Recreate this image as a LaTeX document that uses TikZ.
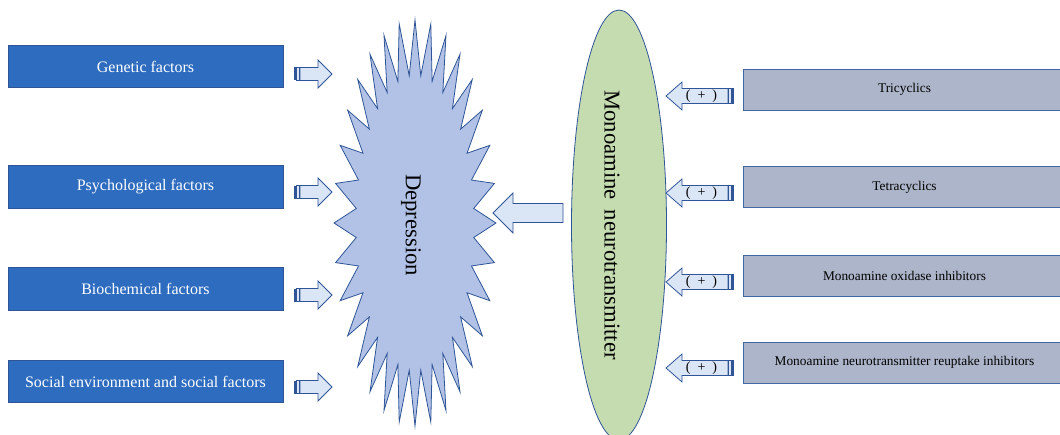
\documentclass[tikz,border=0pt]{standalone}
\usepackage{fontspec}
\setmainfont{Liberation Serif}
\usetikzlibrary{shapes.geometric}
\definecolor{lfill}{RGB}{46,108,192}
\definecolor{lborder}{RGB}{47,85,151}
\definecolor{rfill}{RGB}{172,181,201}
\definecolor{rborder}{RGB}{68,104,164}
\definecolor{starfill}{RGB}{178,194,230}
\definecolor{ellfill}{RGB}{197,219,176}
\definecolor{arrfill}{RGB}{218,229,245}
\definecolor{outl}{RGB}{47,85,151}
\newcommand{\lstriped}[2]{%
  \fill[outl] (#1,#2-6.5) rectangle (#1+2,#2+6.5);
  \draw[arr] (#1+2.8,#2-6.5) rectangle (#1+5,#2+6.5);
  \draw[arr] (#1+6,#2-6.5) -- (#1+24,#2-6.5) -- (#1+24,#2-14) -- (#1+38,#2) -- (#1+24,#2+14) -- (#1+24,#2+6.5) -- (#1+6,#2+6.5) -- cycle;
}
\newcommand{\rplus}[2]{%
  \draw[arr] (#1,#2) -- (#1+16,#2-14) -- (#1+16,#2-7.5) -- (#1+62,#2-7.5) -- (#1+62,#2+7.5) -- (#1+16,#2+7.5) -- (#1+16,#2+14) -- cycle;
  \draw[arr] (#1+62.5,#2-7.5) rectangle (#1+67,#2+7.5);
  \fill[outl] (#1+65,#2-7.5) rectangle (#1+67,#2+7.5);
  \node[font=\fontsize{10.5}{12}\selectfont, inner sep=0] at (#1+35.5,#2) {(\enspace+\enspace)};
}
\begin{document}
\begin{tikzpicture}[x=0.75pt,y=-0.75pt,
  lbox/.style={draw=lborder, fill=lfill, line width=0.6pt, minimum width=275*0.75pt, minimum height=42.5*0.75pt, inner sep=0pt, text=white, font=\fontsize{12}{14}\selectfont},
  rbox/.style={draw=rborder, fill=rfill, line width=0.6pt, minimum width=323*0.75pt, minimum height=41*0.75pt, inner sep=0pt, text=black, font=\fontsize{10}{12}\selectfont},
  arr/.style={draw=outl, fill=arrfill, line width=0.6pt, line join=miter},
  bigtext/.style={font=\fontsize{17}{20}\selectfont, rotate=-90, inner sep=0pt}
]
\useasboundingbox (0,0) rectangle (1060,435);
\clip (0,0) rectangle (1060,435);

% left boxes
\node[lbox] (gen) at (145.5,66.5) {Genetic factors};
\node[lbox] (psy) at (145.5,187) {Psychological factors};
\node[lbox] (bio) at (145.5,289) {Biochemical factors};
\node[lbox] (soc) at (145.5,381.5) {Social environment and social factors};

% left striped arrows
\lstriped{294}{74}
\lstriped{294}{192}
\lstriped{294}{295}
\lstriped{294}{387}

% starburst
\begin{scope}[shift={(415,223)}]
\draw[draw=outl, fill=starfill, line width=0.6pt, line join=miter]
  (90:81 and 203)
  \foreach \i in {0,...,31} { -- ({95.625+11.25*\i}:59 and 148) -- ({101.25+11.25*\i}:81 and 203) } -- cycle;
\end{scope}
\node[bigtext] (dep) at (411,225) {Depression};

% big arrow
\draw[arr] (493,213) -- (513,193) -- (513,203.5) -- (563,203.5) -- (563,222.5) -- (513,222.5) -- (513,233) -- cycle;

% ellipse
\node[ellipse, draw=outl, fill=ellfill, line width=0.6pt, rotate=-90, minimum width=430*0.75pt, minimum height=95*0.75pt, inner sep=0pt] (mono) at (619,225) {};
\node[bigtext] (monotext) at (612,225) {Monoamine\hspace{0.45em}neurotransmitter};

% right arrows
\rplus{666}{96}
\rplus{666}{193}
\rplus{666}{282}
\rplus{666}{368}

% right boxes
\node[rbox] (tri) at (904.5,89.5) {Tricyclics};
\node[rbox] (tet) at (904.5,187) {Tetracyclics};
\node[rbox] (mao) at (904.5,275.5) {Monoamine oxidase inhibitors};
\node[rbox] (reu) at (904.5,362.5) {Monoamine neurotransmitter reuptake inhibitors};
\end{tikzpicture}
\end{document}
